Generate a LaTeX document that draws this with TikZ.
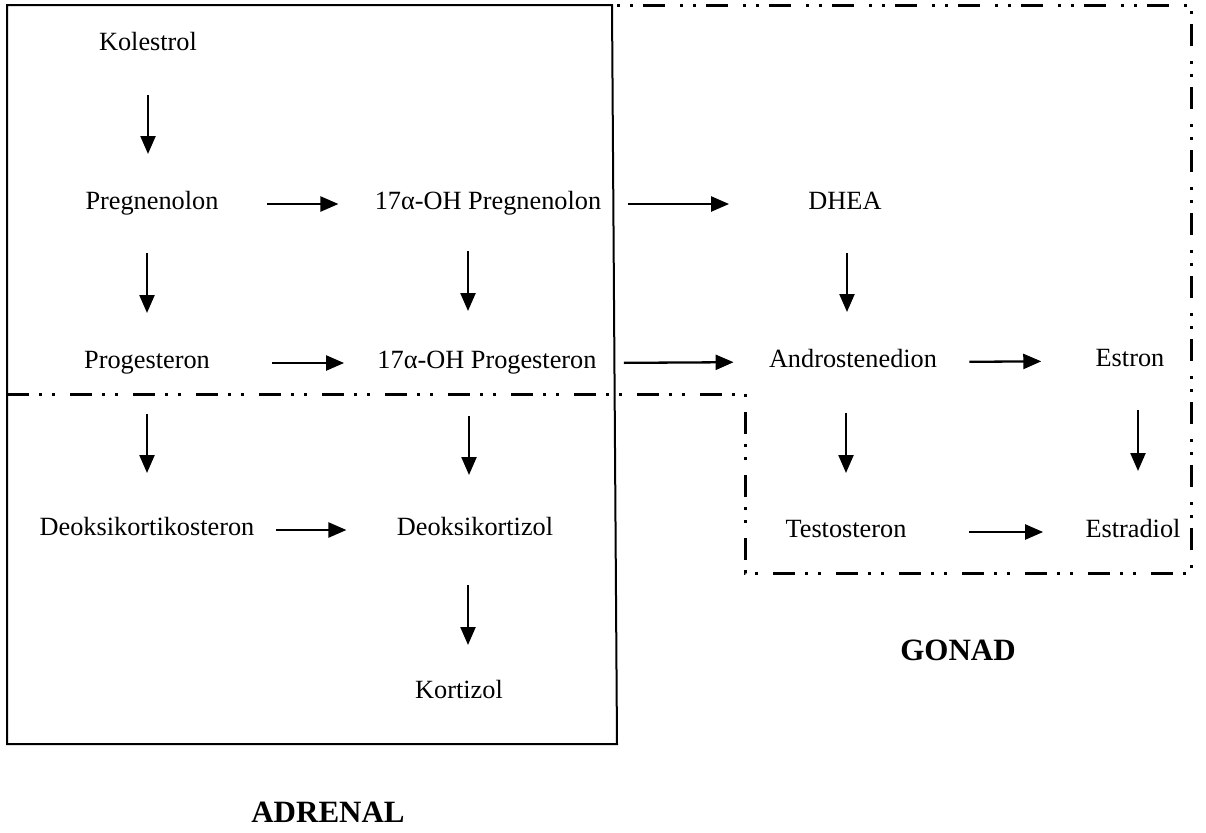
\documentclass[tikz,border=0pt]{standalone}
\usepackage{fontspec}
\setmainfont{Liberation Serif}
\usetikzlibrary{arrows.meta,calc}
\tikzset{
  lbl/.style={anchor=base,inner sep=0pt,text height=.7em,text depth=.2em,
    font=\fontsize{13.15}{15}\selectfont},
  organ/.style={anchor=base,inner sep=0pt,font=\fontsize{15.5}{18}\selectfont\bfseries},
  arr/.style={line width=1.15pt,-{Triangle[length=9pt,width=7.5pt]}},
  zone/.style={line width=1.5pt,dash pattern=on 11pt off 5pt on 1.5pt off 5pt on 1.5pt off 7.5pt},
}

\begin{document}
\begin{tikzpicture}[x=.5pt,y=-.5pt]
  \useasboundingbox (0,0) rectangle (1206,832);
  % adrenal box and gonad zone
  \draw[line width=1pt] (7,5) -- (612,5) -- (617,744) -- (7,744) -- cycle;
  \draw[zone] (7,394) -- (745,394) -- (745,573) -- (1191,573) -- (1191,5) -- (612,5);

  \node[lbl] (kol) at (148,50) {Kolestrol};
  \node[lbl] (preg) at (152,209) {Pregnenolon};
  \node[lbl] (pre17) at (488,209) {17α-OH Pregnenolon};
  \node[lbl] (dhea) at (845,209) {DHEA};
  \node[lbl] (prog) at (147,368) {Progesteron};
  \node[lbl] (pro17) at (487,368) {17α-OH Progesteron};
  \node[lbl] (andro) at (853,367) {Androstenedion};
  \node[lbl] (estron) at (1130,366) {Estron};
  \node[lbl] (dok) at (147,535) {Deoksikortikosteron};
  \node[lbl] (dokz) at (475,535) {Deoksikortizol};
  \node[lbl] (testo) at (846,537) {Testosteron};
  \node[lbl] (estra) at (1133,537) {Estradiol};
  \node[lbl] (kort) at (459,698) {Kortizol};
  \node[organ] (gonad) at (958,660) {GONAD};
  \node[organ] (adrenal) at (328,822) {ADRENAL};

  % vertical steps
  \draw[arr] ($(kol.base)+(0,45)$) -- ($(kol.base|-preg.base)+(0,-55)$);
  \draw[arr] ($(prog.base|-preg.base)+(0,44)$) -- ($(prog.base)+(0,-55)$);
  \draw[arr] ($(pre17.base)+(-20,42)$) -- ($(pro17.base)+(-19,-57)$);
  \draw[arr] ($(dhea.base)+(2,44)$) -- ($(dhea.base|-andro.base)+(2,-55)$);
  \draw[arr] ($(prog.base)+(0,46)$) -- ($(prog.base|-dok.base)+(0,-62)$);
  \draw[arr] ($(pro17.base)+(-18,48)$) -- ($(dokz.base)+(-6,-60)$);
  \draw[arr] ($(andro.base)+(-7,46)$) -- ($(andro.base|-testo.base)+(-7,-64)$);
  \draw[arr] ($(estron.base)+(8,44)$) -- ($(estron.base|-estra.base)+(8,-66)$);
  \draw[arr] ($(dokz.base)+(-7,50)$) -- ($(dokz.base|-kort.base)+(-7,-53)$);

  % horizontal steps
  \draw[arr,shorten <=24pt,shorten >=18pt] (preg.east) -- (pre17.west);
  \draw[arr,shorten <=13pt,shorten >=39.5pt] (pre17.east) -- (dhea.west);
  \draw[arr,shorten <=31pt,shorten >=16.5pt] (prog.east) -- (pro17.west);
  \draw[arr,shorten <=13.5pt,shorten >=17.5pt] (pro17.east) -- (andro.west);
  \draw[arr,shorten <=16pt,shorten >=27pt] (andro.east) -- (estron.west);
  \draw[arr,shorten <=10.5pt,shorten >=25pt] (dok.east) -- (dokz.west);
  \draw[arr,shorten <=31pt,shorten >=21pt] (testo.east) -- (estra.west);
\end{tikzpicture}
\end{document}
